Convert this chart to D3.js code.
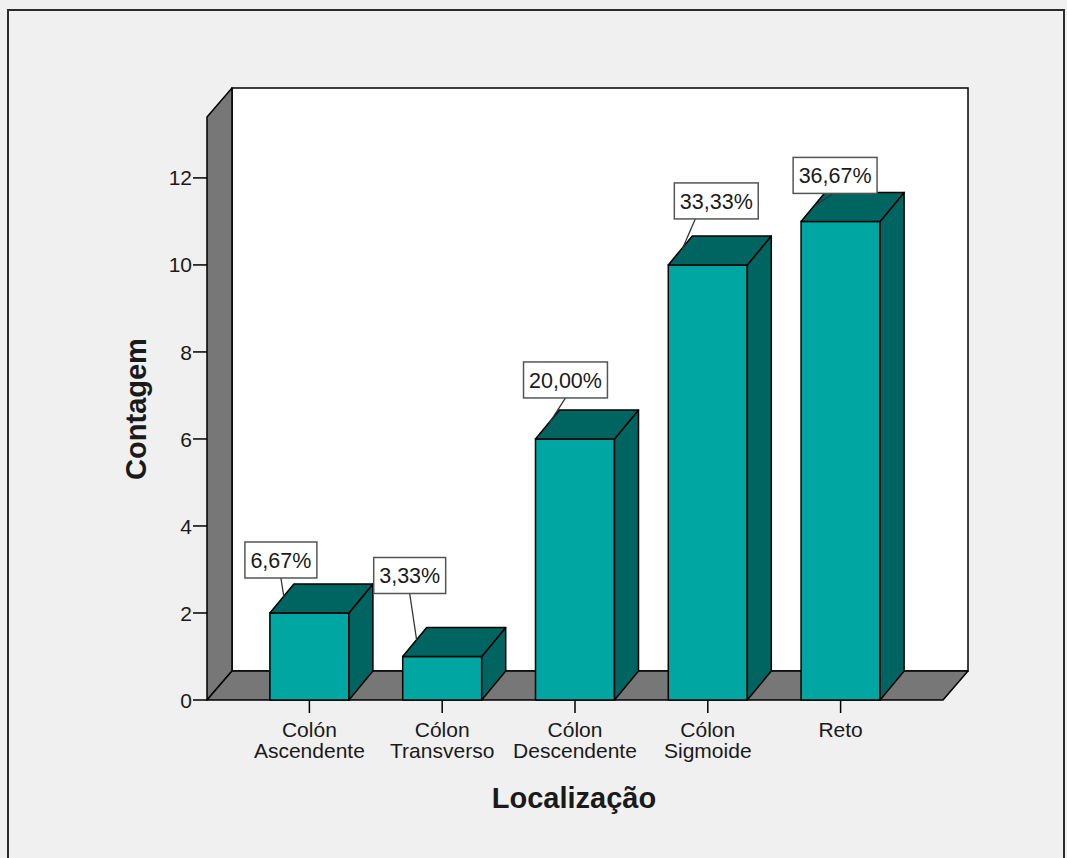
<!DOCTYPE html>
<html>
<head>
<meta charset="utf-8">
<script src="https://cdn.jsdelivr.net/npm/d3@7"></script>
<style>
  html, body { margin: 0; padding: 0; background: #f0f0f0; }
  svg { display: block; }
  text { font-family: "Liberation Sans", Arial, sans-serif; fill: #1a1a1a; }
</style>
</head>
<body>
<svg id="chart" width="1067" height="858"></svg>
<script>
// Tumour location counts
const categories = ["Colón Ascendente", "Cólon Transverso", "Cólon Descendente", "Cólon Sigmoide", "Reto"];
const counts = [2, 1, 6, 10, 11];
const yTicks = [0, 2, 4, 6, 8, 10, 12];
const yTitle = "Contagem";
const xTitle = "Localização";

// callout placement relative to the anchor on each bar top: [box centre dx, box bottom dy, leader x inside box]
const calloutNudge = [[-3, -19, 0], [-7, -47, 0], [16, -25, 0], [34, -30, -21], [20, -12, -2]];

const total = d3.sum(counts);
const pctFmt = v => d3.format(".2f")(v).replace(".", ",") + "%";

const svg = d3.select("#chart");
const W = 1067, H = 858;

// outer frame (open at the bottom)
svg.append("path")
  .attr("d", `M8,${H} L8,10 L1064,10 L1064,${H}`)
  .attr("fill", "none").attr("stroke", "#2b2b2b").attr("stroke-width", 2);

// plot geometry
const x0 = 207, x1 = 943, yBase = 700, yTop = 117;
const wallD = { dx: 25, dy: -29 };
const barD = { dx: 24, dy: -29 };

const y = d3.scaleLinear().domain([0, 13.4]).range([yBase, yTop]);
const x = d3.scaleBand().domain(categories).range([243, 907]).paddingInner(0.405).paddingOuter(0.2025);

// back wall
svg.append("path")
  .attr("d", `M${x0 + wallD.dx},${yBase + wallD.dy} L${x0 + wallD.dx},${yTop + wallD.dy} L${x1 + wallD.dx},${yTop + wallD.dy} L${x1 + wallD.dx},${yBase + wallD.dy} Z`)
  .attr("fill", "#ffffff").attr("stroke", "#000").attr("stroke-width", 1.5);

// side wall
svg.append("path")
  .attr("d", `M${x0},${yTop} L${x0 + wallD.dx},${yTop + wallD.dy} L${x0 + wallD.dx},${yBase + wallD.dy} L${x0},${yBase} Z`)
  .attr("fill", "#777777").attr("stroke", "#000").attr("stroke-width", 1.5).attr("stroke-linejoin", "round");

// floor
svg.append("path")
  .attr("d", `M${x0},${yBase} L${x0 + wallD.dx},${yBase + wallD.dy} L${x1 + wallD.dx},${yBase + wallD.dy} L${x1},${yBase} Z`)
  .attr("fill", "#777777").attr("stroke", "#000").attr("stroke-width", 1.5).attr("stroke-linejoin", "round");

// y axis ticks and labels
const yAxis = svg.append("g");
yAxis.selectAll("line").data(yTicks).join("line")
  .attr("x1", x0 - 14).attr("x2", x0)
  .attr("y1", d => y(d)).attr("y2", d => y(d))
  .attr("stroke", "#000").attr("stroke-width", 1.5);
yAxis.selectAll("text").data(yTicks).join("text")
  .attr("x", x0 - 15).attr("y", d => y(d)).attr("dy", "0.36em")
  .attr("text-anchor", "end").attr("font-size", 21)
  .text(d => d);

// bars
const bars = svg.append("g").selectAll("g").data(counts).join("g");
const front = "#00a6a2", dark = "#006561";
bars.append("rect")
  .attr("x", (d, i) => x(categories[i])).attr("y", d => y(d))
  .attr("width", x.bandwidth()).attr("height", d => yBase - y(d))
  .attr("fill", front).attr("stroke", "#000").attr("stroke-width", 1.5);
bars.append("path")
  .attr("d", (d, i) => {
    const l = x(categories[i]) + x.bandwidth(), t = y(d);
    return `M${l},${t} L${l + barD.dx},${t + barD.dy} L${l + barD.dx},${yBase + barD.dy} L${l},${yBase} Z`;
  })
  .attr("fill", dark).attr("stroke", "#000").attr("stroke-width", 1.5).attr("stroke-linejoin", "round");
bars.append("path")
  .attr("d", (d, i) => {
    const l = x(categories[i]), r = l + x.bandwidth(), t = y(d);
    return `M${l},${t} L${l + barD.dx},${t + barD.dy} L${r + barD.dx},${t + barD.dy} L${r},${t} Z`;
  })
  .attr("fill", dark).attr("stroke", "#000").attr("stroke-width", 1.5).attr("stroke-linejoin", "round");

// x axis ticks and category labels
const xAxis = svg.append("g");
xAxis.selectAll("line").data(categories).join("line")
  .attr("x1", d => x(d) + x.bandwidth() / 2).attr("x2", d => x(d) + x.bandwidth() / 2)
  .attr("y1", yBase).attr("y2", yBase + 13)
  .attr("stroke", "#000").attr("stroke-width", 1.5);
xAxis.selectAll("text").data(categories).join("text")
  .attr("x", d => x(d) + x.bandwidth() / 2).attr("y", 737)
  .attr("text-anchor", "middle").attr("font-size", 21)
  .each(function (d) {
    const words = d.split(" ");
    const t = d3.select(this);
    words.forEach((w, k) => {
      t.append("tspan").attr("x", x(d) + x.bandwidth() / 2).attr("dy", k === 0 ? 0 : 21).text(w);
    });
  });

// percentage callouts
const callouts = svg.append("g").selectAll("g").data(counts).join("g");
callouts.each(function (d, i) {
  const g = d3.select(this);
  const ax = x(categories[i]) + 14, ay = y(d) - 16;
  const [ndx, ndy, lx] = calloutNudge[i];
  const cx = ax + ndx, by = ay + ndy;
  const label = pctFmt(d / total * 100);
  g.append("line")
    .attr("x1", ax).attr("y1", ay).attr("x2", cx + lx).attr("y2", by)
    .attr("stroke", "#333").attr("stroke-width", 1.3);
  const txt = g.append("text")
    .attr("x", cx).attr("y", by - 18).attr("dy", "0.36em")
    .attr("text-anchor", "middle").attr("font-size", 21.5)
    .text(label);
  const w = txt.node().getComputedTextLength() + 11;
  g.insert("rect", "text")
    .attr("x", cx - w / 2).attr("y", by - 36)
    .attr("width", w).attr("height", 36)
    .attr("fill", "#fff").attr("stroke", "#555").attr("stroke-width", 1.5);
});

// axis titles
svg.append("text")
  .attr("transform", `translate(146,409) rotate(-90)`)
  .attr("text-anchor", "middle").attr("font-size", 29).attr("font-weight", "bold")
  .text(yTitle);
svg.append("text")
  .attr("x", 574).attr("y", 808)
  .attr("text-anchor", "middle").attr("font-size", 29).attr("font-weight", "bold")
  .text(xTitle);
</script>
</body>
</html>
